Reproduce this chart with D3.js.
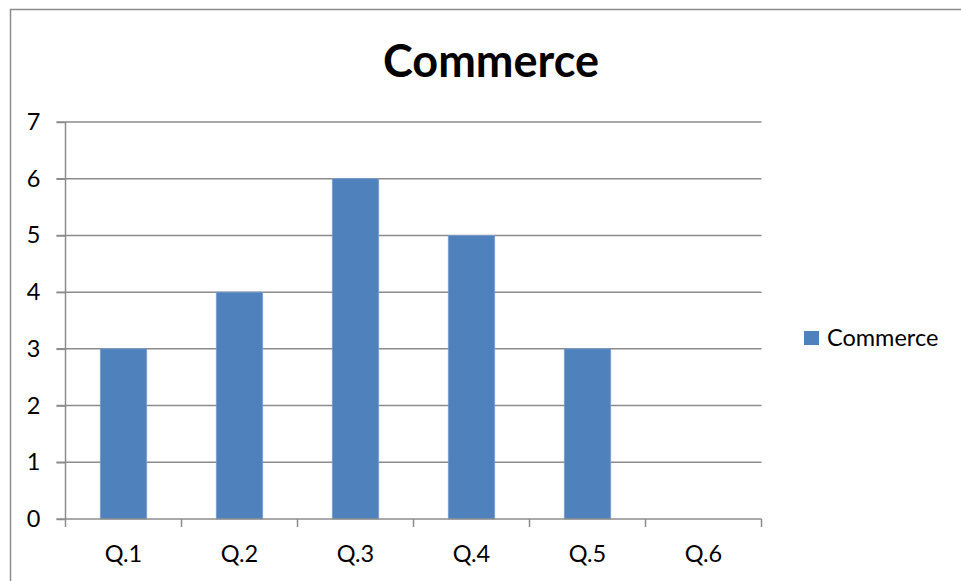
<!DOCTYPE html>
<html><head><meta charset="utf-8">
<script src="https://cdn.jsdelivr.net/npm/d3@7/dist/d3.min.js"></script>
<style>html,body{margin:0;padding:0;background:#fff;overflow:hidden}</style>
</head><body>
<svg id="c" width="961" height="581"></svg>
<script>
const categories = ["Q.1","Q.2","Q.3","Q.4","Q.5","Q.6"];
const values = [3,4,6,5,3,0];
const yTicks = [0,1,2,3,4,5,6,7];
const seriesName = "Commerce";
const title = "Commerce";

const svg = d3.select("#c");
const font = "Lato, 'Open Sans', sans-serif";
const fs = 23.5;
const m = {left:65.5, right:761.5, top:122, bottom:519};
const x = d3.scaleBand().domain(categories).range([m.left, m.right]).paddingInner(0.6).paddingOuter(0.3);
const xb = d3.scaleBand().domain(categories).range([m.left, m.right]);
const y = d3.scaleLinear().domain([0,7]).range([m.bottom, m.top]);

// chart border
svg.append("rect").attr("x",10.5).attr("y",9.5).attr("width",1000).attr("height",1000)
  .attr("fill","none").attr("stroke","#8c8c8c").attr("stroke-width",1.5);

// gridlines
svg.append("g").selectAll("line").data(yTicks.filter(d=>d>0)).join("line")
  .attr("x1",m.left-9).attr("x2",m.right).attr("y1",d=>y(d)).attr("y2",d=>y(d))
  .attr("stroke","#8c8c8c").attr("stroke-width",1.5);

// bars
svg.append("g").selectAll("rect").data(values).join("rect")
  .attr("x",(d,i)=>x(categories[i])).attr("width",x.bandwidth())
  .attr("y",d=>y(d)).attr("height",d=>y(0)-y(d))
  .attr("fill","#4f81bd").attr("stroke","#7a9fd0").attr("stroke-width",0.8);

// y axis
const ya = d3.axisLeft(y).tickValues(yTicks).tickSize(9).tickPadding(16).tickFormat(d3.format("d"));
const gy = svg.append("g").attr("transform",`translate(${m.left},0)`).call(ya);
gy.select(".domain").attr("stroke","#8c8c8c").attr("stroke-width",1.5).attr("d",`M0,${m.bottom}V${m.top}`);
gy.selectAll(".tick line").attr("stroke","#8c8c8c").attr("stroke-width",1.5);
gy.selectAll("text").attr("font-family",font).attr("font-size",fs).attr("fill","#000");

// x axis
const xa = d3.axisBottom(xb).tickSize(0).tickPadding(0);
const gx = svg.append("g").attr("transform",`translate(0,${m.bottom})`).call(xa);
gx.select(".domain").attr("stroke","#8c8c8c").attr("stroke-width",1.5).attr("d",`M${m.left-9},0H${m.right}`);
gx.selectAll("text").attr("font-family",font).attr("font-size",fs).attr("fill","#000")
  .attr("dy",null).attr("y",43);
// boundary ticks
const bounds = categories.map(c=>xb(c)).concat([m.right]);
gx.append("g").selectAll("line").data(bounds).join("line")
  .attr("x1",d=>d).attr("x2",d=>d).attr("y1",0).attr("y2",8)
  .attr("stroke","#8c8c8c").attr("stroke-width",1.5);

// title
svg.append("text").attr("x",491).attr("y",77).attr("text-anchor","middle")
  .attr("font-family",font).attr("font-weight","bold").attr("font-size",45).text(title);

// legend
const lg = svg.append("g");
lg.append("rect").attr("x",804).attr("y",331).attr("width",15).attr("height",14).attr("fill","#4f81bd");
lg.append("text").attr("x",827).attr("y",346).attr("font-family",font).attr("font-size",fs).text(seriesName);
</script>
</body></html>
